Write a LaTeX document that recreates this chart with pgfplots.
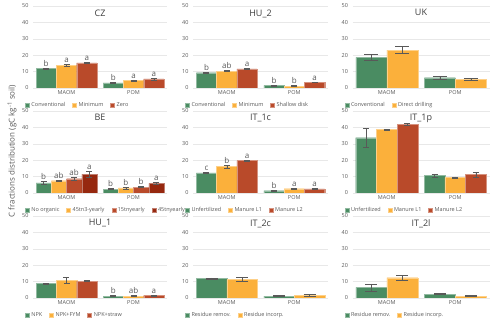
\documentclass[border=0pt]{standalone}
\usepackage{pgfplots}
\pgfplotsset{compat=1.18}
\usepackage{fontspec}
\setmainfont{Open Sans}
\definecolor{cg}{RGB}{74,140,98}
\definecolor{co}{RGB}{251,176,59}
\definecolor{cr}{RGB}{185,74,42}
\definecolor{cd}{RGB}{150,40,15}
\definecolor{txt}{RGB}{89,89,89}

\pgfplotsset{
  panel/.style={
    scale only axis, height=82pt,
    ymin=0, ymax=50, ytick={0,10,...,50},
    xmin=-0.5, xmax=1.5, xtick={0,1}, xticklabels={MAOM,POM},
    ybar=0pt, bar width=20.3pt,
    axis line style={draw=none}, major tick length=0pt,
    ymajorgrids, grid style={gray!18, line width=0.5pt},
    tick label style={font=\fontsize{5.5}{6}\selectfont, text=txt},
    yticklabel style={/pgf/number format/assume math mode=true, xshift=-1pt},
    xticklabel style={yshift=1pt},
    title style={at={(0.5,1)}, anchor=north, yshift=-6pt, font=\fontsize{9}{10}\selectfont, text=txt!70!black},
    legend columns=-1,
    legend style={at={(0,0)}, anchor=west, xshift=-8pt, yshift=-17pt, draw=none, fill=none,
      font=\fontsize{5.5}{6}\selectfont, text=txt, inner sep=0pt,
      /tikz/every even column/.append style={column sep=5pt}},
    legend image code/.code={\fill[##1] (0pt,-2pt) rectangle (4pt,2pt);},
    anchor=south west,
  },
  eb/.style={
    /pgfplots/error bars/y dir=both, /pgfplots/error bars/y explicit,
    /pgfplots/error bars/error bar style={txt, line width=0.5pt},
    /pgfplots/error bars/error mark options={rotate=90, mark size=#1, txt, line width=0.5pt},
  },
  eb/.default=3pt,
  letters/.style={
    point meta=explicit symbolic, nodes near coords,
    visualization depends on={\thisrow{e} \as \myerr},
    nodes near coords style={font=\fontsize{8}{9}\selectfont, text=txt, anchor=south,
      inner sep=1pt, yshift=\myerr*1.64pt+0.5pt},
  },
  pg/.style={fill=cg, draw=cg!60!white, line width=0.3pt},
  po/.style={fill=co, draw=co!60!white, line width=0.3pt},
  pr/.style={fill=cr, draw=cr!60!white, line width=0.3pt},
  pd/.style={fill=cd, draw=cd!60!white, line width=0.3pt},
}

\begin{document}
\begin{tikzpicture}
\useasboundingbox (0,0) rectangle (500pt,323pt);

% row 1
\begin{axis}[panel, at={(33pt,235pt)}, width=134pt, title={CZ}, letters]
\addplot[pg, eb] table[x=x, y=y, y error=e, meta=l] {
x y e l
0 11.8 0.4 b
1 3.1 0.3 b
};
\addplot[po, eb] table[x=x, y=y, y error=e, meta=l] {
x y e l
0 13.9 0.6 a
1 4.5 0.4 a
};
\addplot[pr, eb] table[x=x, y=y, y error=e, meta=l] {
x y e l
0 15.3 0.3 a
1 5.5 0.5 a
};
\legend{Conventional, Minimum, Zero}
\end{axis}

\begin{axis}[panel, at={(193pt,235pt)}, width=135pt, title={HU\_2}, letters]
\addplot[pg, eb] table[x=x, y=y, y error=e, meta=l] {
x y e l
0 9.3 0.4 b
1 1.6 0.3 b
};
\addplot[po, eb] table[x=x, y=y, y error=e, meta=l] {
x y e l
0 10.3 0.3 ab
1 1.2 0.2 b
};
\addplot[pr, eb] table[x=x, y=y, y error=e, meta=l] {
x y e l
0 11.6 0.4 a
1 3.5 0.3 a
};
\legend{Conventional, Minimum, Shallow disk}
\end{axis}

\begin{axis}[panel, at={(352.5pt,235pt)}, width=137pt, title={UK}, bar width=31pt]
\addplot[pg, eb=7pt] table[x=x, y=y, y error=e] {
x y e
0 18.6 1.8
1 6.3 1.1
};
\addplot[po, eb=7pt] table[x=x, y=y, y error=e] {
x y e
0 23.1 2.1
1 5.3 0.4
};
\legend{Conventional, Direct drilling}
\end{axis}

% row 2
\begin{axis}[panel, at={(33pt,130pt)}, width=134pt, title={BE}, letters, bar width=15.25pt]
\addplot[pg, eb] table[x=x, y=y, y error=e, meta=l] {
x y e l
0 6.1 0.8 b
1 2.4 0.4 b
};
\addplot[po, eb] table[x=x, y=y, y error=e, meta=l] {
x y e l
0 7.5 0.3 ab
1 3.1 0.6 b
};
\addplot[pr, eb] table[x=x, y=y, y error=e, meta=l] {
x y e l
0 8.7 1.0 ab
1 3.6 0.3 b
};
\addplot[pd, eb] table[x=x, y=y, y error=e, meta=l] {
x y e l
0 11.5 2.0 a
1 5.8 0.6 a
};
\legend{No organic, 45tn3-yearly, 15tnyearly, 45tnyearly}
\end{axis}

\begin{axis}[panel, at={(193pt,130pt)}, width=135pt, title={IT\_1c}, letters]
\addplot[pg, eb] table[x=x, y=y, y error=e, meta=l] {
x y e l
0 12.2 0.3 c
1 1.4 0.2 b
};
\addplot[po, eb] table[x=x, y=y, y error=e, meta=l] {
x y e l
0 16.1 0.8 b
1 2.6 0.3 a
};
\addplot[pr, eb] table[x=x, y=y, y error=e, meta=l] {
x y e l
0 19.8 0.4 a
1 2.5 0.3 a
};
\legend{Unfertilized, Manure L1, Manure L2}
\end{axis}

\begin{axis}[panel, at={(352.5pt,130pt)}, width=137pt, title={IT\_1p}, bar width=20.7pt]
\addplot[pg, eb] table[x=x, y=y, y error=e] {
x y e
0 33.7 5.7
1 10.6 1.1
};
\addplot[po, eb] table[x=x, y=y, y error=e] {
x y e
0 38.7 0.2
1 9.4 0.4
};
\addplot[pr, eb] table[x=x, y=y, y error=e] {
x y e
0 42.0 0.5
1 11.2 1.6
};
\legend{Unfertilized, Manure L1, Manure L2}
\end{axis}

% row 3
\begin{axis}[panel, at={(33pt,25pt)}, width=134pt, title={HU\_1}, letters]
\addplot[pg, eb] table[x=x, y=y, y error=e, meta=l] {
x y e l
0 8.8 0.3 {}
1 1.2 0.2 b
};
\addplot[po, eb] table[x=x, y=y, y error=e, meta=l] {
x y e l
0 10.8 1.8 {}
1 1.2 0.2 ab
};
\addplot[pr, eb] table[x=x, y=y, y error=e, meta=l] {
x y e l
0 10.3 0.3 {}
1 1.6 0.3 a
};
\legend{NPK, NPK+FYM, NPK+straw}
\end{axis}

\begin{axis}[panel, at={(193pt,25pt)}, width=135pt, title={IT\_2c}, bar width=30.5pt]
\addplot[pg, eb=6pt] table[x=x, y=y, y error=e] {
x y e
0 11.8 0.4
1 1.2 0.3
};
\addplot[po, eb=6pt] table[x=x, y=y, y error=e] {
x y e
0 11.2 1.2
1 1.6 0.6
};
\legend{Residue remov., Residue incorp.}
\end{axis}

\begin{axis}[panel, at={(352.5pt,25pt)}, width=137pt, title={IT\_2l}, bar width=31pt]
\addplot[pg, eb=6pt] table[x=x, y=y, y error=e] {
x y e
0 6.5 2.1
1 2.4 0.4
};
\addplot[po, eb=6pt] table[x=x, y=y, y error=e] {
x y e
0 12.4 1.5
1 1.2 0.3
};
\legend{Residue remov., Residue incorp.}
\end{axis}

\node[rotate=90, font=\fontsize{8}{9}\selectfont, text=txt] at (12pt,172pt)
  {C fractions distribution (gC kg\textsuperscript{-1} soil)};
\end{tikzpicture}
\end{document}
